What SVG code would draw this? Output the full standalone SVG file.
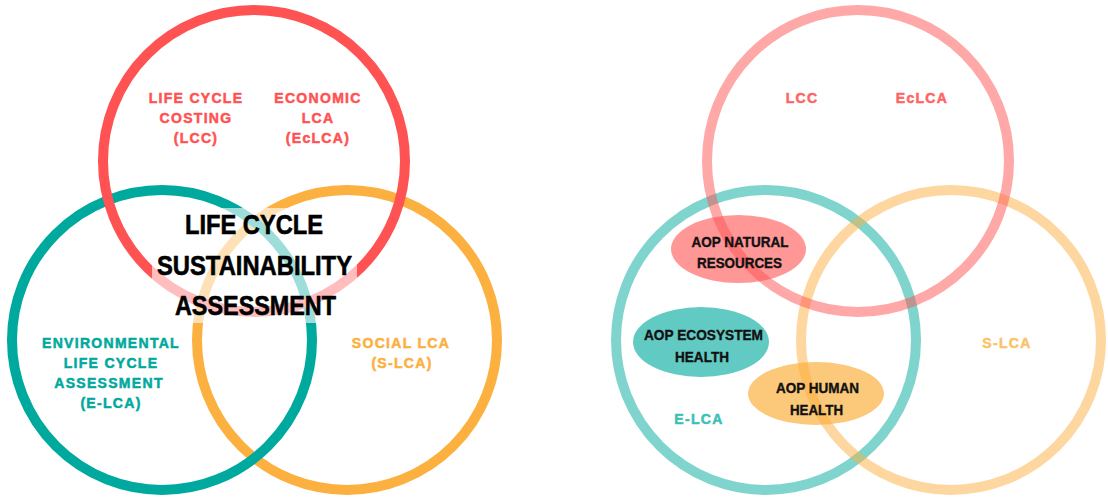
<svg xmlns="http://www.w3.org/2000/svg" width="1108" height="498" viewBox="0 0 1108 498">
<style>
.ring{fill:none;stroke-width:10}
.lbl{font-family:"Liberation Sans",Arial,sans-serif;font-weight:bold;font-size:14px;letter-spacing:1.3px;text-anchor:middle;stroke-width:0.5px}
.title{font-family:"Liberation Sans",Arial,sans-serif;font-weight:bold;font-size:27px;fill:#000;stroke:#000;stroke-width:0.6px;text-anchor:middle}
.aop{font-family:"Liberation Sans",Arial,sans-serif;font-weight:bold;font-size:15.5px;fill:#111;stroke:#111;stroke-width:0.4px;text-anchor:middle}
.red{fill:#FF5252;stroke:#FF5252}
.teal{fill:#00A99D;stroke:#00A99D}
.orange{fill:#FBB040;stroke:#FBB040}
</style>
<rect width="1108" height="498" fill="#fff"/>

<!-- LEFT VENN -->
<g id="left-venn">
  <g id="left-social">
    <circle class="ring" cx="347" cy="340" r="150" stroke="#FBB040"/>
  </g>
  <g id="left-environmental">
    <circle class="ring" cx="162" cy="340" r="150" stroke="#00A99D"/>
  </g>
  <g id="left-economic">
    <circle class="ring" cx="254" cy="161" r="151" stroke="#FF5252"/>
  </g>
  <g id="left-center">
    <rect x="152" y="208" width="205" height="115" fill="#fff" fill-opacity="0.62"/>
    <text class="title" x="254" y="234" textLength="138" lengthAdjust="spacingAndGlyphs">LIFE CYCLE</text>
    <text class="title" x="254.5" y="275" textLength="195" lengthAdjust="spacingAndGlyphs">SUSTAINABILITY</text>
    <text class="title" x="255.5" y="315" textLength="161" lengthAdjust="spacingAndGlyphs">ASSESSMENT</text>
  </g>
  <g id="left-labels">
    <text class="lbl red" x="196" y="103">LIFE CYCLE</text>
    <text class="lbl red" x="196" y="123">COSTING</text>
    <text class="lbl red" x="196" y="143">(LCC)</text>
    <text class="lbl red" x="318" y="103">ECONOMIC</text>
    <text class="lbl red" x="318" y="123">LCA</text>
    <text class="lbl red" x="318" y="143">(EcLCA)</text>
    <text class="lbl teal" x="111" y="348" letter-spacing="1.6">ENVIRONMENTAL</text>
    <text class="lbl teal" x="111" y="368">LIFE CYCLE</text>
    <text class="lbl teal" x="109" y="388">ASSESSMENT</text>
    <text class="lbl teal" x="111" y="408">(E-LCA)</text>
    <text class="lbl orange" x="401" y="348">SOCIAL LCA</text>
    <text class="lbl orange" x="402" y="368">(S-LCA)</text>
  </g>
</g>

<!-- RIGHT VENN -->
<g id="right-venn">
  <g id="right-elca">
    <circle class="ring" cx="766" cy="340" r="150" stroke="#00A99D" stroke-opacity="0.5"/>
  </g>
  <g id="right-slca">
    <circle class="ring" cx="951" cy="340" r="150" stroke="#FBB040" stroke-opacity="0.5"/>
  </g>
  <g id="right-lcc">
    <circle class="ring" cx="858" cy="161" r="151" stroke="#FF5252" stroke-opacity="0.5"/>
  </g>
  <g id="aop-natural-resources">
    <ellipse cx="738.5" cy="249" rx="67.5" ry="34" fill="#FF5252" fill-opacity="0.6"/>
    <text class="aop" x="740" y="247" textLength="97" lengthAdjust="spacingAndGlyphs">AOP NATURAL</text>
    <text class="aop" x="739.5" y="268" textLength="85" lengthAdjust="spacingAndGlyphs">RESOURCES</text>
  </g>
  <g id="aop-ecosystem-health">
    <ellipse cx="701" cy="342" rx="68" ry="35" fill="#00A99D" fill-opacity="0.62"/>
    <text class="aop" x="703.5" y="340" textLength="119" lengthAdjust="spacingAndGlyphs">AOP ECOSYSTEM</text>
    <text class="aop" x="702" y="362" textLength="54" lengthAdjust="spacingAndGlyphs">HEALTH</text>
  </g>
  <g id="aop-human-health">
    <ellipse cx="816" cy="393.5" rx="68" ry="31.5" fill="#FBB040" fill-opacity="0.7"/>
    <text class="aop" x="817.5" y="393" textLength="83" lengthAdjust="spacingAndGlyphs">AOP HUMAN</text>
    <text class="aop" x="816.5" y="415" textLength="53" lengthAdjust="spacingAndGlyphs">HEALTH</text>
  </g>
  <g id="right-labels">
    <text class="lbl" x="802" y="103" fill="#FF6464" stroke="#FF6464" letter-spacing="1.2">LCC</text>
    <text class="lbl" x="922" y="103" fill="#FF6464" stroke="#FF6464" letter-spacing="1.2">EcLCA</text>
    <text class="lbl" x="699" y="424" fill="#3CBFB5" stroke="#3CBFB5" letter-spacing="1.2">E-LCA</text>
    <text class="lbl" x="1007" y="348" fill="#FCC26A" stroke="#FCC26A" letter-spacing="1.2">S-LCA</text>
  </g>
</g>
<g id="connectors"></g>
</svg>
